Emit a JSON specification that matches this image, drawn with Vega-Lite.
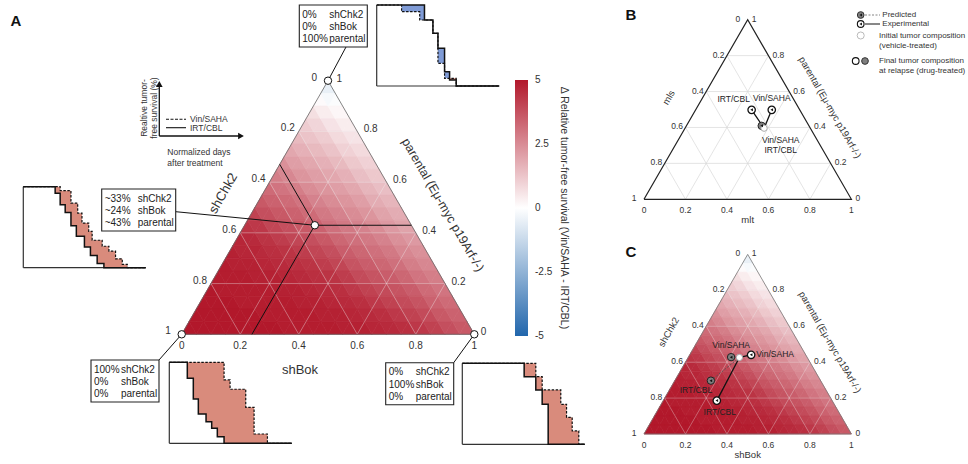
{
"$schema":"https://vega.github.io/schema/vega-lite/v6.json",
"width":968,"height":464,"autosize":{"type":"none"},"padding":0,"background":"white",
"config":{"view":{"stroke":null},"font":"Liberation Sans","text":{"font":"Liberation Sans"}},
"datasets":{
"heat":[
{"q":0,"u":1,"v":[5,5,5,5,5,5,5,4.9,4.9,4.9,4.9,4.8,4.8,4.7,4.6,4.5,4.3,4.1,3.8,3.6]},
{"q":1,"u":1,"v":[5,5,5,5,5,4.9,4.9,4.9,4.9,4.8,4.8,4.7,4.6,4.5,4.3,4.1,3.9,3.6,3.4]},
{"q":2,"u":1,"v":[5,5,5,4.9,4.9,4.9,4.9,4.8,4.8,4.7,4.6,4.5,4.3,4.1,3.9,3.7,3.4,3.2]},
{"q":3,"u":1,"v":[5,4.9,4.9,4.9,4.9,4.8,4.8,4.7,4.6,4.5,4.3,4.1,3.9,3.7,3.5,3.2,3.0]},
{"q":4,"u":1,"v":[4.9,4.9,4.9,4.8,4.8,4.7,4.6,4.5,4.4,4.2,3.9,3.7,3.5,3.3,3.0,2.8]},
{"q":5,"u":1,"v":[4.9,4.8,4.8,4.7,4.6,4.5,4.4,4.2,4.0,3.7,3.5,3.3,3.1,2.8,2.6]},
{"q":6,"u":1,"v":[4.8,4.7,4.6,4.5,4.4,4.2,4.0,3.8,3.5,3.3,3.1,2.9,2.6,2.4]},
{"q":7,"u":1,"v":[4.7,4.6,4.4,4.2,4.0,3.8,3.6,3.3,3.1,2.9,2.7,2.4,2.2]},
{"q":8,"u":1,"v":[4.4,4.3,4.0,3.8,3.6,3.4,3.1,2.9,2.7,2.5,2.2,2.0]},
{"q":9,"u":1,"v":[4.1,3.8,3.6,3.4,3.2,2.9,2.7,2.5,2.3,2.0,1.8]},
{"q":10,"u":1,"v":[3.6,3.4,3.2,3.0,2.7,2.5,2.3,2.1,1.8,1.6]},
{"q":11,"u":1,"v":[3.2,3.0,2.8,2.5,2.3,2.1,1.9,1.6,1.4]},
{"q":12,"u":1,"v":[2.8,2.6,2.3,2.1,1.9,1.7,1.4,1.2]},
{"q":13,"u":1,"v":[2.4,2.1,1.9,1.7,1.5,1.2,1.0]},
{"q":14,"u":1,"v":[1.9,1.7,1.5,1.3,1.0,0.8]},
{"q":15,"u":1,"v":[1.5,1.3,1.1,0.8,0.6]},
{"q":16,"u":1,"v":[1.1,0.9,0.6,0.4]},
{"q":17,"u":1,"v":[0.7,0.4,0.2]},
{"q":18,"u":1,"v":[0.1,-0.1]},
{"q":19,"u":1,"v":[-0.5]},
{"q":0,"u":0,"v":[5,5,5,5,5,5,4.9,4.9,4.9,4.9,4.8,4.8,4.7,4.6,4.5,4.3,4.1,3.8,3.6]},
{"q":1,"u":0,"v":[5,5,5,5,4.9,4.9,4.9,4.9,4.8,4.8,4.7,4.6,4.5,4.3,4.1,3.9,3.6,3.4]},
{"q":2,"u":0,"v":[5,5,4.9,4.9,4.9,4.9,4.8,4.8,4.7,4.6,4.5,4.3,4.1,3.9,3.7,3.4,3.2]},
{"q":3,"u":0,"v":[4.9,4.9,4.9,4.9,4.8,4.8,4.7,4.6,4.5,4.3,4.1,3.9,3.7,3.5,3.2,3.0]},
{"q":4,"u":0,"v":[4.9,4.9,4.8,4.8,4.7,4.6,4.5,4.4,4.2,3.9,3.7,3.5,3.3,3.0,2.8]},
{"q":5,"u":0,"v":[4.8,4.8,4.7,4.6,4.5,4.4,4.2,4.0,3.7,3.5,3.3,3.1,2.8,2.6]},
{"q":6,"u":0,"v":[4.7,4.7,4.5,4.4,4.2,4.0,3.8,3.5,3.3,3.1,2.9,2.6,2.4]},
{"q":7,"u":0,"v":[4.6,4.4,4.2,4.0,3.8,3.6,3.3,3.1,2.9,2.7,2.4,2.2]},
{"q":8,"u":0,"v":[4.3,4.0,3.8,3.6,3.4,3.1,2.9,2.7,2.5,2.2,2.0]},
{"q":9,"u":0,"v":[3.8,3.6,3.4,3.2,2.9,2.7,2.5,2.3,2.0,1.8]},
{"q":10,"u":0,"v":[3.4,3.2,3.0,2.7,2.5,2.3,2.1,1.8,1.6]},
{"q":11,"u":0,"v":[3.0,2.8,2.5,2.3,2.1,1.9,1.6,1.4]},
{"q":12,"u":0,"v":[2.6,2.3,2.1,1.9,1.7,1.4,1.2]},
{"q":13,"u":0,"v":[2.1,1.9,1.7,1.5,1.2,1.0]},
{"q":14,"u":0,"v":[1.7,1.5,1.3,1.0,0.8]},
{"q":15,"u":0,"v":[1.3,1.1,0.8,0.6]},
{"q":16,"u":0,"v":[0.9,0.6,0.4]},
{"q":17,"u":0,"v":[0.4,0.2]},
{"q":18,"u":0,"v":[-0.2]}
],
"grid":[{"b1":0,"c1":0.2,"b2":0.8,"c2":0.2},{"b1":0,"c1":0.4,"b2":0.6,"c2":0.4},{"b1":0,"c1":0.6,"b2":0.4,"c2":0.6},{"b1":0,"c1":0.8,"b2":0.2,"c2":0.8},
{"b1":0,"c1":0.8,"b2":0.8,"c2":0},{"b1":0,"c1":0.6,"b2":0.6,"c2":0},{"b1":0,"c1":0.4,"b2":0.4,"c2":0},{"b1":0,"c1":0.2,"b2":0.2,"c2":0},
{"b1":0.2,"c1":0.8,"b2":0.2,"c2":0},{"b1":0.4,"c1":0.6,"b2":0.4,"c2":0},{"b1":0.6,"c1":0.4,"b2":0.6,"c2":0},{"b1":0.8,"c1":0.2,"b2":0.8,"c2":0}],
"frame":[{"i":0,"b":0,"c":0},{"i":1,"b":0,"c":1},{"i":2,"b":1,"c":0},{"i":3,"b":0,"c":0}],
"tv":[{"v":0},{"v":0.2},{"v":0.4},{"v":0.6},{"v":0.8},{"v":1}],
"cbar":[{"lo":-5,"hi":5}],
"cbticks":[{"v":-5},{"v":-2.5},{"v":0},{"v":2.5},{"v":5}],
"comps":[{"id":"top","a":0,"b":0,"c":1},{"id":"mid","a":0.33,"b":0.24,"c":0.43},{"id":"bl","a":1,"b":0,"c":0},{"id":"br","a":0,"b":1,"c":0}],
"boxtext":[
{"id":"top","k":0,"pct":"0%","name":"shChk2"},{"id":"top","k":1,"pct":"0%","name":"shBok"},{"id":"top","k":2,"pct":"100%","name":"parental"},
{"id":"mid","k":0,"pct":"~33%","name":"shChk2"},{"id":"mid","k":1,"pct":"~24%","name":"shBok"},{"id":"mid","k":2,"pct":"~43%","name":"parental"},
{"id":"bl","k":0,"pct":"100%","name":"shChk2"},{"id":"bl","k":1,"pct":"0%","name":"shBok"},{"id":"bl","k":2,"pct":"0%","name":"parental"},
{"id":"br","k":0,"pct":"0%","name":"shChk2"},{"id":"br","k":1,"pct":"100%","name":"shBok"},{"id":"br","k":2,"pct":"0%","name":"parental"}],
"surv":[
{"id":"top","t":0,"d":100,"s":100},{"id":"top","t":0.203,"d":91.8,"s":100},{"id":"top","t":0.351,"d":81.5,"s":100},{"id":"top","t":0.39,"d":81.5,"s":81.5},{"id":"top","t":0.459,"d":65,"s":65},{"id":"top","t":0.5,"d":28,"s":46.5},{"id":"top","t":0.554,"d":9.5,"s":17.7},{"id":"top","t":0.595,"d":9.5,"s":7.4},{"id":"top","t":0.649,"d":0,"s":0},{"id":"top","t":1,"d":0,"s":0},
{"id":"mid","t":0,"d":100,"s":100},{"id":"mid","t":0.26,"d":100,"s":91.8},{"id":"mid","t":0.301,"d":95.1,"s":77.6},{"id":"mid","t":0.342,"d":95.1,"s":68.2},{"id":"mid","t":0.389,"d":79.6,"s":51.8},{"id":"mid","t":0.433,"d":79.6,"s":38.8},{"id":"mid","t":0.444,"d":67.3,"s":38.8},{"id":"mid","t":0.479,"d":55.1,"s":38.8},{"id":"mid","t":0.499,"d":55.1,"s":25.7},{"id":"mid","t":0.534,"d":44.9,"s":25.7},{"id":"mid","t":0.548,"d":44.9,"s":15.1},{"id":"mid","t":0.562,"d":33.9,"s":15.1},{"id":"mid","t":0.603,"d":33.9,"s":5.3},{"id":"mid","t":0.644,"d":26.5,"s":5.3},{"id":"mid","t":0.658,"d":26.5,"s":0},{"id":"mid","t":0.699,"d":20.4,"s":0},{"id":"mid","t":0.753,"d":11,"s":0},{"id":"mid","t":0.808,"d":4.1,"s":0},{"id":"mid","t":0.849,"d":0,"s":0},{"id":"mid","t":1,"d":0,"s":0},
{"id":"bl","t":0,"d":100,"s":100},{"id":"bl","t":0.147,"d":100,"s":80.2},{"id":"bl","t":0.196,"d":100,"s":54.7},{"id":"bl","t":0.237,"d":100,"s":36.2},{"id":"bl","t":0.3,"d":100,"s":26.7},{"id":"bl","t":0.346,"d":100,"s":18.5},{"id":"bl","t":0.392,"d":100,"s":8.2},{"id":"bl","t":0.447,"d":78.2,"s":0},{"id":"bl","t":0.496,"d":66.7,"s":0},{"id":"bl","t":0.624,"d":44.4,"s":0},{"id":"bl","t":0.692,"d":11.5,"s":0},{"id":"bl","t":0.801,"d":0,"s":0},{"id":"bl","t":1,"d":0,"s":0},
{"id":"br","t":0,"d":100,"s":100},{"id":"br","t":0.505,"d":100,"s":83.5},{"id":"br","t":0.6,"d":83.5,"s":67.1},{"id":"br","t":0.652,"d":67.1,"s":49.4},{"id":"br","t":0.701,"d":67.1,"s":0},{"id":"br","t":0.804,"d":49.4,"s":0},{"id":"br","t":0.851,"d":33.3,"s":0},{"id":"br","t":0.897,"d":16.5,"s":0},{"id":"br","t":0.951,"d":0,"s":0},{"id":"br","t":1,"d":0,"s":0}],
"titles":[{"panel":"A","side":"L","text":"shChk2"},{"panel":"A","side":"R","text":"parental (Eμ-myc p19Arf-/-)"},{"panel":"A","side":"B","text":"shBok"},
{"panel":"B","side":"L","text":"mls"},{"panel":"B","side":"R","text":"parental (Eμ-myc p19Arf-/-)"},{"panel":"B","side":"B","text":"mlt"},
{"panel":"C","side":"L","text":"shChk2"},{"panel":"C","side":"R","text":"parental (Eμ-myc p19Arf-/-)"},{"panel":"C","side":"B","text":"shBok"}],
"pts":[
{"panel":"B","kind":"pred","arm":"both","a":0.228,"b":0.363,"c":0.409,"label":"Vin/SAHA\nIRT/CBL","pos":"dr"},
{"panel":"B","kind":"exp","arm":"IRT/CBL","a":0.232,"b":0.27,"c":0.498,"label":"IRT/CBL","pos":"ul"},
{"panel":"B","kind":"exp","arm":"Vin/SAHA","a":0.135,"b":0.367,"c":0.498,"label":"Vin/SAHA","pos":"u"},
{"panel":"C","kind":"pred","arm":"Vin/SAHA","a":0.366,"b":0.206,"c":0.428,"label":"Vin/SAHA","pos":"u"},
{"panel":"C","kind":"pred","arm":"IRT/CBL","a":0.529,"b":0.174,"c":0.297,"label":"IRT/CBL","pos":"dl"},
{"panel":"C","kind":"exp","arm":"Vin/SAHA","a":0.263,"b":0.296,"c":0.441,"label":"Vin/SAHA","pos":"r"},
{"panel":"C","kind":"exp","arm":"IRT/CBL","a":0.556,"b":0.258,"c":0.186,"label":"IRT/CBL","pos":"d"}],
"init":[{"panel":"B","a":0.223,"b":0.381,"c":0.396},{"panel":"C","a":0.327,"b":0.247,"c":0.426}],
"keyaxes":[{"axis":"y","label":"Realtive tumor-\nfree survival (%)"},{"axis":"x","label":"Normalized days\nafter treatment"}],
"keyitems":[{"label":"Vin/SAHA","style":"dashed"},{"label":"IRT/CBL","style":"solid"}],
"bkey":[{"k":0,"label":"Predicted"},{"k":1,"label":"Experimental"},{"k":2,"label":"Initial tumor composition\n(vehicle-treated)"},{"k":3,"label":"Final tumor composition\nat relapse (drug-treated)"}],
"letters":[{"panel":"A"},{"panel":"B"},{"panel":"C"}],
"cbtitle":[{"t":"Δ Relative tumor-free survival (Vin/SAHA - IRT/CBL)"}]
},
"encoding":{
"x":{"field":"X","type":"quantitative","scale":{"domain":[0,968],"nice":false,"zero":false},"axis":null},
"y":{"field":"Y","type":"quantitative","scale":{"domain":[0,464],"nice":false,"zero":false,"reverse":true},"axis":null}
},
"layer":[
{"data":{"name":"heat"},"transform":[
{"flatten":["v"]},
{"window":[{"op":"row_number","as":"rn"}],"groupby":["q","u"]},
{"calculate":"datum.rn-1","as":"p"},
{"fold":["p","q","v"],"as":["key","val"]},
{"calculate":"datum.key=='p'?0:(datum.key=='q'?1:2)","as":"k"},
{"calculate":"(datum.p+datum.q/2+(1-datum.u)/2+datum.k/2)/20","as":"tx"},
{"calculate":"(datum.q+(datum.u==1?(datum.k==1?1:0):1))/20","as":"ty"},
{"calculate":"(datum.q+(datum.u==1?0:(datum.k==1?0:1)))/20","as":"ty2"},
{"calculate":"datum.p+'-'+datum.q+'-'+datum.u","as":"tri"},
{"calculate":"datum.v","as":"vs"},
{"calculate":"181.7+292.6*datum.tx","as":"X"},
{"calculate":"334.3-253.6*datum.ty","as":"Y"},
{"calculate":"334.3-253.6*datum.ty2","as":"Y2"}],
"mark":{"type":"area","strokeWidth":0.7},
"encoding":{
"y":{"field":"Y","type":"quantitative","scale":{"domain":[0,464],"nice":false,"zero":false,"reverse":true},"axis":null,"stack":null},
"y2":{"field":"Y2"},
"detail":{"field":"tri","type":"nominal"},
"fill":{"field":"v","type":"quantitative","scale":{"domain":[-5,0,5],"range":["#2166ac","#ffffff","#b2182b"],"interpolate":"rgb"},"legend":null},
"stroke":{"field":"vs","type":"quantitative","scale":{"domain":[-5,0,5],"range":["#2166ac","#ffffff","#b2182b"],"interpolate":"rgb"},"legend":null}}},
{"data":{"name":"heat"},"transform":[
{"flatten":["v"]},
{"window":[{"op":"row_number","as":"rn"}],"groupby":["q","u"]},
{"calculate":"datum.rn-1","as":"p"},
{"fold":["p","q","v"],"as":["key","val"]},
{"calculate":"datum.key=='p'?0:(datum.key=='q'?1:2)","as":"k"},
{"calculate":"(datum.p+datum.q/2+(1-datum.u)/2+datum.k/2)/20","as":"tx"},
{"calculate":"(datum.q+(datum.u==1?(datum.k==1?1:0):1))/20","as":"ty"},
{"calculate":"(datum.q+(datum.u==1?0:(datum.k==1?0:1)))/20","as":"ty2"},
{"calculate":"datum.p+'-'+datum.q+'-'+datum.u","as":"tri"},
{"calculate":"datum.v","as":"vs"},
{"calculate":"644+207.4*datum.tx","as":"X"},
{"calculate":"434-179.6*datum.ty","as":"Y"},
{"calculate":"434-179.6*datum.ty2","as":"Y2"}],
"mark":{"type":"area","strokeWidth":0.7},
"encoding":{
"y":{"field":"Y","type":"quantitative","scale":{"domain":[0,464],"nice":false,"zero":false,"reverse":true},"axis":null,"stack":null},
"y2":{"field":"Y2"},
"detail":{"field":"tri","type":"nominal"},
"fill":{"field":"v","type":"quantitative","scale":{"domain":[-5,0,5],"range":["#2166ac","#ffffff","#b2182b"],"interpolate":"rgb"},"legend":null},
"stroke":{"field":"vs","type":"quantitative","scale":{"domain":[-5,0,5],"range":["#2166ac","#ffffff","#b2182b"],"interpolate":"rgb"},"legend":null}}},
{"data":{"name":"cbar"},"transform":[{"calculate":"515","as":"X"},{"calculate":"528","as":"X2"},{"calculate":"208-25.6*datum.hi","as":"Y"},{"calculate":"208-25.6*datum.lo","as":"Y2"}],
"mark":{"type":"rect","fill":{"gradient":"linear","x1":0,"y1":1,"x2":0,"y2":0,"stops":[{"offset":0,"color":"#2166ac"},{"offset":0.5,"color":"#ffffff"},{"offset":1,"color":"#b2182b"}]}},
"encoding":{"x2":{"field":"X2"},"y2":{"field":"Y2"}}},
{"data":{"name":"cbticks"},"transform":[{"calculate":"535","as":"X"},{"calculate":"208-25.6*datum.v","as":"Y"},{"calculate":"''+datum.v","as":"lab"}],
"mark":{"type":"text","align":"left","baseline":"middle","fontSize":10,"color":"#333333"},"encoding":{"text":{"field":"lab","type":"nominal"}}},
{"data":{"name":"grid"},"transform":[
{"calculate":"181.7+292.6*(datum.b1+datum.c1/2)","as":"X"},{"calculate":"334.3-253.6*datum.c1","as":"Y"},
{"calculate":"181.7+292.6*(datum.b2+datum.c2/2)","as":"X2"},{"calculate":"334.3-253.6*datum.c2","as":"Y2"}],
"mark":{"type":"rule","color":"#eeeeee","opacity":0.45,"strokeWidth":0.8},
"encoding":{"x2":{"field":"X2"},"y2":{"field":"Y2"}}},
{"data":{"name":"grid"},"transform":[
{"calculate":"644+207.4*(datum.b1+datum.c1/2)","as":"X"},{"calculate":"199.3-179.6*datum.c1","as":"Y"},
{"calculate":"644+207.4*(datum.b2+datum.c2/2)","as":"X2"},{"calculate":"199.3-179.6*datum.c2","as":"Y2"}],
"mark":{"type":"rule","color":"#d9d9d9","strokeWidth":0.7},
"encoding":{"x2":{"field":"X2"},"y2":{"field":"Y2"}}},
{"data":{"name":"grid"},"transform":[
{"calculate":"644+207.4*(datum.b1+datum.c1/2)","as":"X"},{"calculate":"434-179.6*datum.c1","as":"Y"},
{"calculate":"644+207.4*(datum.b2+datum.c2/2)","as":"X2"},{"calculate":"434-179.6*datum.c2","as":"Y2"}],
"mark":{"type":"rule","color":"#eeeeee","opacity":0.45,"strokeWidth":0.7},
"encoding":{"x2":{"field":"X2"},"y2":{"field":"Y2"}}},
{"data":{"name":"frame"},"transform":[{"calculate":"181.7+292.6*(datum.b+datum.c/2)","as":"X"},{"calculate":"334.3-253.6*datum.c","as":"Y"}],
"mark":{"type":"line","color":"#666666","strokeWidth":0.8},"encoding":{"order":{"field":"i","type":"quantitative"}}},
{"data":{"name":"frame"},"transform":[{"calculate":"644+207.4*(datum.b+datum.c/2)","as":"X"},{"calculate":"199.3-179.6*datum.c","as":"Y"}],
"mark":{"type":"line","color":"#222222","strokeWidth":1.2},"encoding":{"order":{"field":"i","type":"quantitative"}}},
{"data":{"name":"frame"},"transform":[{"calculate":"644+207.4*(datum.b+datum.c/2)","as":"X"},{"calculate":"434-179.6*datum.c","as":"Y"}],
"mark":{"type":"line","color":"#777777","strokeWidth":0.8},"encoding":{"order":{"field":"i","type":"quantitative"}}},
{"data":{"name":"comps"},"transform":[{"filter":"datum.id=='mid'"},{"fold":["a","b","c"],"as":["ax","val"]},
{"calculate":"datum.ax=='a'?0:(datum.ax=='b'?datum.b:1-datum.c)","as":"b2"},
{"calculate":"datum.ax=='a'?1-datum.a:(datum.ax=='b'?0:datum.c)","as":"c2"},
{"calculate":"181.7+292.6*(datum.b+datum.c/2)","as":"X"},{"calculate":"334.3-253.6*datum.c","as":"Y"},
{"calculate":"181.7+292.6*(datum.b2+datum.c2/2)","as":"X2"},{"calculate":"334.3-253.6*datum.c2","as":"Y2"}],
"mark":{"type":"rule","color":"#111111","strokeWidth":1},"encoding":{"x2":{"field":"X2"},"y2":{"field":"Y2"}}},
{"data":{"name":"comps"},"transform":[
{"calculate":"datum.id=='top'?299.3:(datum.id=='mid'?101.7:(datum.id=='bl'?91:385.7))","as":"x0"},
{"calculate":"datum.id=='top'?5:(datum.id=='mid'?189:(datum.id=='bl'?360:362.7))","as":"y0"},
{"calculate":"datum.id=='mid'?74:68","as":"bw"},
{"calculate":"181.7+292.6*(datum.b+datum.c/2)","as":"X"},{"calculate":"334.3-253.6*datum.c","as":"Y"},
{"calculate":"datum.id=='top'?datum.x0+46.7:datum.x0+datum.bw","as":"X2"},
{"calculate":"datum.id=='top'?datum.y0+42:(datum.id=='mid'?datum.y0+22.7:datum.y0)","as":"Y2"}],
"mark":{"type":"rule","color":"#111111","strokeWidth":1},"encoding":{"x2":{"field":"X2"},"y2":{"field":"Y2"}}},
{"data":{"name":"comps"},"transform":[
{"calculate":"datum.id=='top'?299.3:(datum.id=='mid'?101.7:(datum.id=='bl'?91:385.7))","as":"X"},
{"calculate":"datum.id=='top'?5:(datum.id=='mid'?189:(datum.id=='bl'?360:362.7))","as":"Y"},
{"calculate":"datum.X+(datum.id=='mid'?74:68)","as":"X2"},
{"calculate":"datum.Y+42","as":"Y2"}],
"mark":{"type":"rect","fill":"white","stroke":"#222222","strokeWidth":1.1},"encoding":{"x2":{"field":"X2"},"y2":{"field":"Y2"}}},
{"data":{"name":"boxtext"},"transform":[
{"calculate":"datum.id=='top'?299.3:(datum.id=='mid'?101.7:(datum.id=='bl'?91:385.7))","as":"x0"},
{"calculate":"datum.id=='top'?5:(datum.id=='mid'?189:(datum.id=='bl'?360:362.7))","as":"y0"},
{"calculate":"datum.x0+3","as":"X"},{"calculate":"datum.y0+9.5+12.3*datum.k","as":"Y"}],
"mark":{"type":"text","align":"left","baseline":"middle","fontSize":10,"color":"#222222"},"encoding":{"text":{"field":"pct","type":"nominal"}}},
{"data":{"name":"boxtext"},"transform":[
{"calculate":"datum.id=='top'?299.3:(datum.id=='mid'?101.7:(datum.id=='bl'?91:385.7))","as":"x0"},
{"calculate":"datum.id=='top'?5:(datum.id=='mid'?189:(datum.id=='bl'?360:362.7))","as":"y0"},
{"calculate":"datum.x0+(datum.id=='mid'?36:30)","as":"X"},{"calculate":"datum.y0+9.5+12.3*datum.k","as":"Y"}],
"mark":{"type":"text","align":"left","baseline":"middle","fontSize":10,"color":"#222222"},"encoding":{"text":{"field":"name","type":"nominal"}}},
{"data":{"name":"comps"},"transform":[
{"calculate":"datum.id=='top'?376.7:(datum.id=='mid'?23.3:(datum.id=='bl'?169.3:462.3))","as":"X"},
{"calculate":"datum.id=='top'?5:(datum.id=='mid'?186.7:(datum.id=='bl'?362.3:363.3))","as":"Y"},
{"calculate":"datum.Y+81","as":"Y2"}],
"mark":{"type":"rule","color":"#333333","strokeWidth":1.2},"encoding":{"y2":{"field":"Y2"}}},
{"data":{"name":"comps"},"transform":[
{"calculate":"datum.id=='top'?376.7:(datum.id=='mid'?23.3:(datum.id=='bl'?169.3:462.3))","as":"X"},
{"calculate":"(datum.id=='top'?5:(datum.id=='mid'?186.7:(datum.id=='bl'?362.3:363.3)))+81","as":"Y"},
{"calculate":"datum.X+122.5","as":"X2"}],
"mark":{"type":"rule","color":"#333333","strokeWidth":1.2},"encoding":{"x2":{"field":"X2"}}},
{"data":{"name":"surv"},"transform":[
{"calculate":"datum.id=='top'?376.7:(datum.id=='mid'?23.3:(datum.id=='bl'?169.3:462.3))","as":"ox"},
{"calculate":"datum.id=='top'?5:(datum.id=='mid'?186.7:(datum.id=='bl'?362.3:363.3))","as":"oy"},
{"calculate":"datum.ox+122.5*datum.t","as":"X"},
{"calculate":"datum.oy+81*(1-min(datum.d,datum.s)/100)","as":"Y"},
{"calculate":"datum.oy+81*(1-datum.s/100)","as":"Y2"}],
"mark":{"type":"area","interpolate":"step-after","fill":"#7f9bd6"},
"encoding":{"y":{"field":"Y","type":"quantitative","scale":{"domain":[0,464],"nice":false,"zero":false,"reverse":true},"axis":null,"stack":null},"y2":{"field":"Y2"},"detail":{"field":"id","type":"nominal"}}},
{"data":{"name":"surv"},"transform":[
{"calculate":"datum.id=='top'?376.7:(datum.id=='mid'?23.3:(datum.id=='bl'?169.3:462.3))","as":"ox"},
{"calculate":"datum.id=='top'?5:(datum.id=='mid'?186.7:(datum.id=='bl'?362.3:363.3))","as":"oy"},
{"calculate":"datum.ox+122.5*datum.t","as":"X"},
{"calculate":"datum.oy+81*(1-max(datum.d,datum.s)/100)","as":"Y"},
{"calculate":"datum.oy+81*(1-datum.s/100)","as":"Y2"}],
"mark":{"type":"area","interpolate":"step-after","fill":"#d98b7c"},
"encoding":{"y":{"field":"Y","type":"quantitative","scale":{"domain":[0,464],"nice":false,"zero":false,"reverse":true},"axis":null,"stack":null},"y2":{"field":"Y2"},"detail":{"field":"id","type":"nominal"}}},
{"data":{"name":"surv"},"transform":[
{"calculate":"datum.id=='top'?376.7:(datum.id=='mid'?23.3:(datum.id=='bl'?169.3:462.3))","as":"ox"},
{"calculate":"datum.id=='top'?5:(datum.id=='mid'?186.7:(datum.id=='bl'?362.3:363.3))","as":"oy"},
{"calculate":"datum.ox+122.5*datum.t","as":"X"},
{"calculate":"datum.oy+81*(1-datum.s/100)","as":"Y"}],
"mark":{"type":"line","interpolate":"step-after","color":"#111111","strokeWidth":1.5},
"encoding":{"detail":{"field":"id","type":"nominal"}}},
{"data":{"name":"surv"},"transform":[
{"calculate":"datum.id=='top'?376.7:(datum.id=='mid'?23.3:(datum.id=='bl'?169.3:462.3))","as":"ox"},
{"calculate":"datum.id=='top'?5:(datum.id=='mid'?186.7:(datum.id=='bl'?362.3:363.3))","as":"oy"},
{"calculate":"datum.ox+122.5*datum.t","as":"X"},
{"calculate":"datum.oy+81*(1-datum.d/100)","as":"Y"}],
"mark":{"type":"line","interpolate":"step-after","color":"#111111","strokeWidth":1.2,"strokeDash":[2.5,1.5]},
"encoding":{"detail":{"field":"id","type":"nominal"}}},
{"data":{"name":"comps"},"transform":[{"calculate":"181.7+292.6*(datum.b+datum.c/2)","as":"X"},{"calculate":"334.3-253.6*datum.c","as":"Y"}],
"mark":{"type":"point","shape":"circle","filled":true,"fill":"white","stroke":"#111111","strokeWidth":1,"size":55,"opacity":1}},
{"data":{"name":"tv"},"transform":[{"calculate":"181.7+292.6*(1-datum.v)/2-4-((datum.v==0||datum.v==1)?7:0)","as":"X"},{"calculate":"334.3-253.6*(1-datum.v)-3","as":"Y"},{"calculate":"''+datum.v","as":"lab"}],
"mark":{"type":"text","align":"right","baseline":"middle","fontSize":10,"color":"#333333"},"encoding":{"text":{"field":"lab","type":"nominal"}}},
{"data":{"name":"tv"},"transform":[{"calculate":"181.7+292.6*(1-datum.v/2)+6.5+(datum.v==1?2:0)","as":"X"},{"calculate":"334.3-253.6*datum.v-2","as":"Y"},{"calculate":"''+datum.v","as":"lab"}],
"mark":{"type":"text","align":"left","baseline":"middle","fontSize":10,"color":"#333333"},"encoding":{"text":{"field":"lab","type":"nominal"}}},
{"data":{"name":"tv"},"transform":[{"calculate":"181.7+292.6*datum.v","as":"X"},{"calculate":"346.3","as":"Y"},{"calculate":"''+datum.v","as":"lab"}],
"mark":{"type":"text","align":"center","baseline":"middle","fontSize":10,"color":"#333333"},"encoding":{"text":{"field":"lab","type":"nominal"}}},
{"data":{"name":"tv"},"transform":[{"calculate":"644+207.4*(1-datum.v)/2-2.5-((datum.v==0||datum.v==1)?5:0)","as":"X"},{"calculate":"199.3-179.6*(1-datum.v)-1","as":"Y"},{"calculate":"''+datum.v","as":"lab"}],
"mark":{"type":"text","align":"right","baseline":"middle","fontSize":8.5,"color":"#333333"},"encoding":{"text":{"field":"lab","type":"nominal"}}},
{"data":{"name":"tv"},"transform":[{"calculate":"644+207.4*(1-datum.v/2)+4","as":"X"},{"calculate":"199.3-179.6*datum.v-1","as":"Y"},{"calculate":"''+datum.v","as":"lab"}],
"mark":{"type":"text","align":"left","baseline":"middle","fontSize":8.5,"color":"#333333"},"encoding":{"text":{"field":"lab","type":"nominal"}}},
{"data":{"name":"tv"},"transform":[{"calculate":"644+207.4*datum.v","as":"X"},{"calculate":"210.3","as":"Y"},{"calculate":"''+datum.v","as":"lab"}],
"mark":{"type":"text","align":"center","baseline":"middle","fontSize":8.5,"color":"#333333"},"encoding":{"text":{"field":"lab","type":"nominal"}}},
{"data":{"name":"tv"},"transform":[{"calculate":"644+207.4*(1-datum.v)/2-2.5-((datum.v==0||datum.v==1)?5:0)","as":"X"},{"calculate":"434-179.6*(1-datum.v)-1","as":"Y"},{"calculate":"''+datum.v","as":"lab"}],
"mark":{"type":"text","align":"right","baseline":"middle","fontSize":8.5,"color":"#333333"},"encoding":{"text":{"field":"lab","type":"nominal"}}},
{"data":{"name":"tv"},"transform":[{"calculate":"644+207.4*(1-datum.v/2)+4","as":"X"},{"calculate":"434-179.6*datum.v-1","as":"Y"},{"calculate":"''+datum.v","as":"lab"}],
"mark":{"type":"text","align":"left","baseline":"middle","fontSize":8.5,"color":"#333333"},"encoding":{"text":{"field":"lab","type":"nominal"}}},
{"data":{"name":"tv"},"transform":[{"calculate":"644+207.4*datum.v","as":"X"},{"calculate":"445","as":"Y"},{"calculate":"''+datum.v","as":"lab"}],
"mark":{"type":"text","align":"center","baseline":"middle","fontSize":8.5,"color":"#333333"},"encoding":{"text":{"field":"lab","type":"nominal"}}},
{"data":{"name":"titles"},"transform":[
{"calculate":"datum.side=='L'?0:0.5","as":"b"},{"calculate":"datum.side=='B'?0:0.5","as":"c"},
{"calculate":"datum.panel=='A'?181.7+292.6*(datum.b+datum.c/2):644+207.4*(datum.b+datum.c/2)","as":"X0"},
{"calculate":"datum.panel=='A'?334.3-253.6*datum.c:(datum.panel=='B'?199.3:434)-179.6*datum.c","as":"Y0"},
{"calculate":"datum.X0+(datum.panel=='A'?(datum.side=='L'?-31.6:(datum.side=='R'?41.8:-28)):(datum.side=='L'?-27:(datum.side=='R'?30.4:0)))","as":"X"},
{"calculate":"datum.Y0+(datum.panel=='A'?(datum.side=='L'?-14.2:(datum.side=='R'?-2.5:36)):(datum.side=='L'?-12:(datum.side=='R'?-2:21)))","as":"Y"},
{"calculate":"datum.side=='L'?-60:(datum.side=='R'?60:0)","as":"ang"},
{"calculate":"datum.panel=='A'?(datum.side=='R'?12.5:13):9.5","as":"fs"}],
"mark":{"type":"text","align":"center","baseline":"middle","color":"#333333"},
"encoding":{"text":{"field":"text","type":"nominal"},"angle":{"field":"ang","type":"quantitative","scale":null},"size":{"field":"fs","type":"quantitative","scale":null}}},
{"data":{"name":"pts"},"transform":[{"filter":"datum.kind=='exp'"},
{"lookup":"panel","from":{"data":{"name":"init"},"key":"panel","fields":["b","c"]},"as":["b0","c0"]},
{"calculate":"644+207.4*(datum.b+datum.c/2)","as":"X"},{"calculate":"(datum.panel=='B'?199.3:434)-179.6*datum.c","as":"Y"},
{"calculate":"644+207.4*(datum.b0+datum.c0/2)","as":"X2"},{"calculate":"(datum.panel=='B'?199.3:434)-179.6*datum.c0","as":"Y2"}],
"mark":{"type":"rule","color":"#111111","strokeWidth":1.3},"encoding":{"x2":{"field":"X2"},"y2":{"field":"Y2"}}},
{"data":{"name":"pts"},"transform":[{"filter":"datum.kind=='pred'"},
{"lookup":"panel","from":{"data":{"name":"init"},"key":"panel","fields":["b","c"]},"as":["b0","c0"]},
{"calculate":"644+207.4*(datum.b+datum.c/2)","as":"X"},{"calculate":"(datum.panel=='B'?199.3:434)-179.6*datum.c","as":"Y"},
{"calculate":"644+207.4*(datum.b0+datum.c0/2)","as":"X2"},{"calculate":"(datum.panel=='B'?199.3:434)-179.6*datum.c0","as":"Y2"}],
"mark":{"type":"rule","color":"#555555","strokeWidth":0.9,"strokeDash":[2,1.5]},"encoding":{"x2":{"field":"X2"},"y2":{"field":"Y2"}}},
{"data":{"name":"pts"},"transform":[{"filter":"datum.kind=='pred'"},{"calculate":"644+207.4*(datum.b+datum.c/2)","as":"X"},{"calculate":"(datum.panel=='B'?199.3:434)-179.6*datum.c","as":"Y"}],
"mark":{"type":"point","shape":"circle","filled":true,"fill":"#7f7f7f","stroke":"#222222","strokeWidth":1,"size":55,"opacity":1}},
{"data":{"name":"init"},"transform":[{"calculate":"644+207.4*(datum.b+datum.c/2)","as":"X"},{"calculate":"(datum.panel=='B'?199.3:434)-179.6*datum.c","as":"Y"}],
"mark":{"type":"point","shape":"circle","filled":true,"fill":"white","stroke":"#aaaaaa","strokeWidth":1,"size":40,"opacity":1}},
{"data":{"name":"pts"},"transform":[{"filter":"datum.kind=='exp'"},{"calculate":"644+207.4*(datum.b+datum.c/2)","as":"X"},{"calculate":"(datum.panel=='B'?199.3:434)-179.6*datum.c","as":"Y"}],
"mark":{"type":"point","shape":"circle","filled":true,"fill":"white","stroke":"#111111","strokeWidth":1.3,"size":55,"opacity":1}},
{"data":{"name":"pts"},"transform":[{"calculate":"644+207.4*(datum.b+datum.c/2)","as":"X"},{"calculate":"(datum.panel=='B'?199.3:434)-179.6*datum.c","as":"Y"}],
"mark":{"type":"point","shape":"triangle-left","filled":true,"color":"#111111","size":9,"opacity":1}},
{"data":{"name":"pts"},"transform":[
{"calculate":"644+207.4*(datum.b+datum.c/2)+(datum.pos=='ul'?-18:(datum.pos=='u'?0:(datum.pos=='dr'?19:(datum.pos=='r'?24:(datum.pos=='dl'?-15:3)))))","as":"X"},
{"calculate":"(datum.panel=='B'?199.3:434)-179.6*datum.c+(datum.pos=='ul'?-11:(datum.pos=='u'?-12:(datum.pos=='dr'?14:(datum.pos=='r'?-1:(datum.pos=='dl'?9.5:11)))))","as":"Y"}],
"mark":{"type":"text","align":"center","baseline":"middle","fontSize":8.5,"color":"#222222","lineBreak":"\n"},"encoding":{"text":{"field":"label","type":"nominal"}}},
{"data":{"name":"letters"},"transform":[{"calculate":"datum.panel=='A'?16:631","as":"X"},{"calculate":"datum.panel=='A'?21:(datum.panel=='B'?15:252)","as":"Y"}],
"mark":{"type":"text","align":"center","baseline":"middle","fontSize":15,"fontWeight":"bold","color":"#111111"},"encoding":{"text":{"field":"panel","type":"nominal"}}},
{"data":{"name":"cbtitle"},"transform":[{"calculate":"563.5","as":"X"},{"calculate":"208","as":"Y"}],
"mark":{"type":"text","align":"center","baseline":"middle","fontSize":10.5,"angle":90,"color":"#333333"},"encoding":{"text":{"field":"t","type":"nominal"}}},
{"data":{"name":"keyaxes"},"transform":[{"calculate":"159.3","as":"X"},{"calculate":"136","as":"Y"},{"calculate":"datum.axis=='y'?159.3:239","as":"X2"},{"calculate":"datum.axis=='y'?87:136","as":"Y2"}],
"mark":{"type":"rule","color":"#111111","strokeWidth":1.3},"encoding":{"x2":{"field":"X2"},"y2":{"field":"Y2"}}},
{"data":{"name":"keyaxes"},"transform":[{"calculate":"datum.axis=='y'?159.3:241","as":"X"},{"calculate":"datum.axis=='y'?84:136","as":"Y"},{"calculate":"datum.axis=='y'?'triangle-up':'triangle-right'","as":"shp"}],
"mark":{"type":"point","filled":true,"color":"#111111","size":45,"opacity":1},"encoding":{"shape":{"field":"shp","type":"nominal","scale":null}}},
{"data":{"name":"keyaxes"},"transform":[{"filter":"datum.axis=='y'"},{"calculate":"143.5","as":"X"},{"calculate":"108","as":"Y"}],
"mark":{"type":"text","align":"center","baseline":"middle","fontSize":8.5,"angle":-90,"color":"#333333","lineBreak":"\n"},"encoding":{"text":{"field":"label","type":"nominal"}}},
{"data":{"name":"keyaxes"},"transform":[{"filter":"datum.axis=='x'"},{"calculate":"167.3","as":"X"},{"calculate":"152","as":"Y"}],
"mark":{"type":"text","align":"left","baseline":"middle","fontSize":8.5,"color":"#333333","lineBreak":"\n"},"encoding":{"text":{"field":"label","type":"nominal"}}},
{"data":{"name":"keyitems"},"transform":[{"filter":"datum.style=='dashed'"},{"calculate":"166","as":"X"},{"calculate":"186","as":"X2"},{"calculate":"119.3","as":"Y"}],
"mark":{"type":"rule","color":"#111111","strokeWidth":1.1,"strokeDash":[3,1.5]},"encoding":{"x2":{"field":"X2"}}},
{"data":{"name":"keyitems"},"transform":[{"filter":"datum.style=='solid'"},{"calculate":"166","as":"X"},{"calculate":"186","as":"X2"},{"calculate":"127.7","as":"Y"}],
"mark":{"type":"rule","color":"#111111","strokeWidth":1.1},"encoding":{"x2":{"field":"X2"}}},
{"data":{"name":"keyitems"},"transform":[{"calculate":"190","as":"X"},{"calculate":"datum.style=='dashed'?119.3:127.7","as":"Y"}],
"mark":{"type":"text","align":"left","baseline":"middle","fontSize":8.5,"color":"#333333"},"encoding":{"text":{"field":"label","type":"nominal"}}},
{"data":{"name":"bkey"},"transform":[{"calculate":"datum.k<2?882.3:879","as":"X"},{"calculate":"datum.k==0?15:(datum.k==1?24:(datum.k==2?35.5:61))","as":"Y"}],
"mark":{"type":"text","align":"left","baseline":"middle","fontSize":8,"color":"#333333","lineBreak":"\n"},"encoding":{"text":{"field":"label","type":"nominal"}}},
{"data":{"name":"bkey"},"transform":[{"filter":"datum.k==0"},{"calculate":"865","as":"X"},{"calculate":"880","as":"X2"},{"calculate":"15","as":"Y"}],
"mark":{"type":"rule","color":"#777777","strokeWidth":0.9,"strokeDash":[2,1.5]},"encoding":{"x2":{"field":"X2"}}},
{"data":{"name":"bkey"},"transform":[{"filter":"datum.k==1"},{"calculate":"865","as":"X"},{"calculate":"880","as":"X2"},{"calculate":"24","as":"Y"}],
"mark":{"type":"rule","color":"#111111","strokeWidth":1},"encoding":{"x2":{"field":"X2"}}},
{"data":{"name":"bkey"},"transform":[{"filter":"datum.k==0||datum.k==3"},{"calculate":"datum.k==0?860.7:865","as":"X"},{"calculate":"datum.k==0?15:61","as":"Y"}],
"mark":{"type":"point","shape":"circle","filled":true,"fill":"#7f7f7f","stroke":"#333333","strokeWidth":1,"size":45,"opacity":1}},
{"data":{"name":"bkey"},"transform":[{"filter":"datum.k==1||datum.k==3"},{"calculate":"datum.k==1?860.7:855.7","as":"X"},{"calculate":"datum.k==1?24:61","as":"Y"}],
"mark":{"type":"point","shape":"circle","filled":true,"fill":"white","stroke":"#111111","strokeWidth":1.1,"size":45,"opacity":1}},
{"data":{"name":"bkey"},"transform":[{"filter":"datum.k==2"},{"calculate":"860.7","as":"X"},{"calculate":"35.5","as":"Y"}],
"mark":{"type":"point","shape":"circle","filled":true,"fill":"white","stroke":"#bbbbbb","strokeWidth":1,"size":50,"opacity":1}},
{"data":{"name":"bkey"},"transform":[{"filter":"datum.k<2"},{"calculate":"860.7","as":"X"},{"calculate":"datum.k==0?15:24","as":"Y"}],
"mark":{"type":"point","shape":"triangle-left","filled":true,"color":"#111111","size":8,"opacity":1}}
]
}
